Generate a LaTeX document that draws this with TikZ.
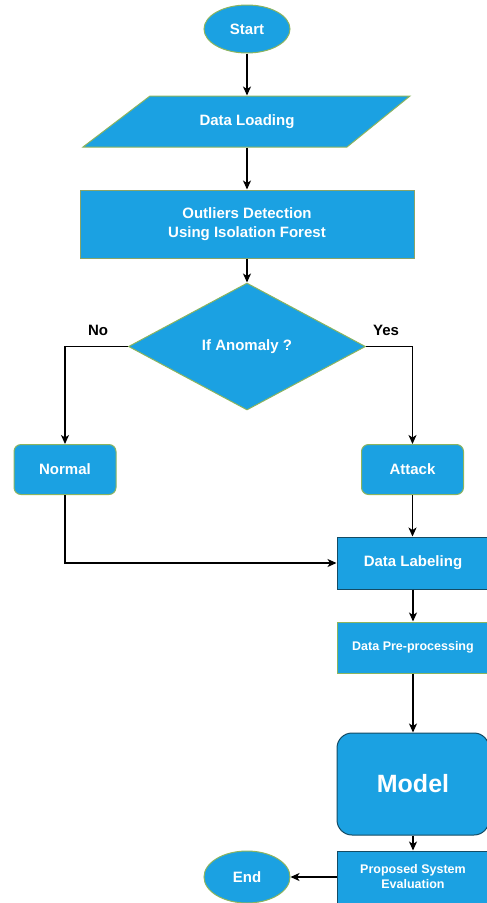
\documentclass[tikz,border=0pt]{standalone}
\usepackage{fontspec}
\setmainfont{Liberation Sans}
\usetikzlibrary{shapes, arrows.meta, calc, positioning}

\definecolor{flowblue}{RGB}{27,161,226}
\definecolor{greenedge}{RGB}{140,180,95}
\definecolor{darkedge}{RGB}{20,75,100}

\begin{document}
\begin{tikzpicture}[x=1pt, y=-1pt,
        blk/.style={fill=flowblue, draw=greenedge, line width=1pt, text=white, font=\bfseries\fontsize{15}{19}\selectfont, align=center, inner sep=0pt},
        darkblk/.style={blk, draw=darkedge},
        flow/.style={line width=1.4pt, -{Stealth[length=9pt, width=8pt, inset=2.5pt]}},
        branch/.style={font=\bfseries\fontsize{15}{19}\selectfont, inner sep=0pt}]
        \useasboundingbox (0,0) rectangle (487,903);

        % Start
        \node[blk, ellipse, minimum width=86, minimum height=48] (start) at (247,29) {Start};

        % Data Loading (parallelogram)
        \draw[blk] (150,96) -- (410,96) -- (347,147) -- (83,147) -- cycle;
        \node[blk, draw=none, fill=none, minimum height=51] (load) at (247,121.5) {Data Loading};

        % Outliers detection
        \node[blk, draw=greenedge!70!gray, minimum width=334, minimum height=68] (iforest) at (247,224) {Outliers Detection\\Using Isolation Forest};

        % Decision
        \node[blk, diamond, aspect=1.87, minimum width=237, minimum height=127] (anomaly) at (247,346.5) {If Anomaly ?};
        \node[branch] (no) at (98,330) {No};
        \node[branch] (yes) at (386,330) {Yes};

        % Normal / Attack
        \node[blk, rounded corners=7pt, minimum width=102, minimum height=50] (normal) at (65,469.5) {Normal};
        \node[blk, rounded corners=7pt, minimum width=102, minimum height=50] (attack) at (412.5,469.5) {Attack};

        % Labeling and pre-processing
        \node[darkblk, minimum width=152, minimum height=52] (labeling) at (413,563) {Data Labeling};
        \node[blk, font=\bfseries\fontsize{12.5}{15}\selectfont, minimum width=152, minimum height=51] (prep) at (413,647.5) {Data Pre-processing};

        % Model
        \node[darkblk, rounded corners=15pt, font=\bfseries\fontsize{25}{30}\selectfont, minimum width=152, minimum height=102] (model) at (413,784) {Model};

        % Evaluation and End
        \node[darkblk, font=\bfseries\fontsize{12.5}{15}\selectfont, minimum width=152, minimum height=52] (eval) at (413,877) {Proposed System\\Evaluation};
        \node[blk, ellipse, minimum width=86, minimum height=52] (end) at (247,877) {End};

        % Connectors
        \draw[flow] (start) -- (load);
        \draw[flow] (load) -- (iforest);
        \draw[flow] (iforest) -- (anomaly);
        \draw[flow] (anomaly.west) -| (normal.north);
        \draw[flow] (anomaly.east) -| (attack.north);
        \draw[flow] (attack.south) -- (attack.south |- labeling.north);
        \draw[flow] (normal.south) |- (labeling.west);
        \draw[flow] (labeling) -- (prep);
        \draw[flow] (prep) -- (model);
        \draw[flow] (model) -- (eval);
        \draw[flow] (eval) -- (end);
    \end{tikzpicture}
\end{document}
